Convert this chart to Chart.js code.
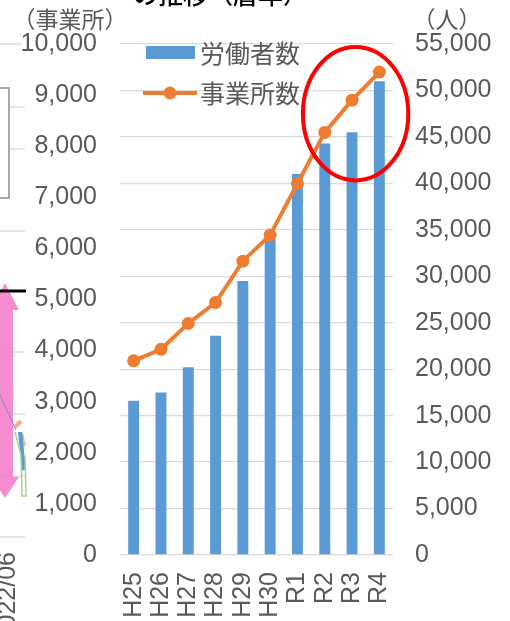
<!DOCTYPE html>
<html>
<head>
<meta charset="utf-8">
<script src="https://cdn.jsdelivr.net/npm/chart.js@4.4.0/dist/chart.umd.min.js"></script>
<style>
  body { margin: 0; background: #fff; }
  #wrap { width: 510px; height: 621px; }
</style>
</head>
<body>
<div id="wrap"><canvas id="chart" width="510" height="621"></canvas></div>
<script>
// values
const years = ['H25', 'H26', 'H27', 'H28', 'H29', 'H30', 'R1', 'R2', 'R3', 'R4'];
const workers = [16600, 17500, 20200, 23600, 29500, 34100, 41000, 44300, 45500, 51000];
const offices = [3800, 4025, 4530, 4940, 5750, 6260, 7270, 8270, 8900, 9450];
const leftTicks = [0, 1000, 2000, 3000, 4000, 5000, 6000, 7000, 8000, 9000, 10000];
const rightTicks = [0, 5000, 10000, 15000, 20000, 25000, 30000, 35000, 40000, 45000, 50000, 55000];

const NUM_FONT = '"Liberation Sans", Arial, sans-serif';
const JP_FONT = '"Noto Sans CJK JP", "Noto Sans", sans-serif';
const GREY = '#595959';

// legend drawn inside the plot, top left
const innerLegend = {
  id: 'innerLegend',
  afterDraw(chart) {
    const ctx = chart.ctx;
    const a = chart.chartArea;
    const ds = chart.data.datasets;
    const x0 = a.left + 23;
    ctx.save();
    ctx.font = '25px ' + JP_FONT;
    ctx.textBaseline = 'middle';
    // bars
    ctx.fillStyle = ds[0].backgroundColor;
    ctx.fillRect(x0 + 3, a.top + 2, 49, 13);
    ctx.fillStyle = GREY;
    ctx.fillText(ds[0].label, x0 + 57, a.top + 9);
    // line
    const ly = a.top + 49;
    ctx.strokeStyle = ds[1].borderColor;
    ctx.lineWidth = 4;
    ctx.beginPath();
    ctx.moveTo(x0, ly);
    ctx.lineTo(x0 + 54, ly);
    ctx.stroke();
    ctx.fillStyle = ds[1].borderColor;
    ctx.beginPath();
    ctx.arc(x0 + 27, ly, 6.5, 0, Math.PI * 2);
    ctx.fill();
    ctx.fillStyle = GREY;
    ctx.fillText(ds[1].label, x0 + 57, ly);
    ctx.restore();
  }
};

// axis unit captions, cut-off title and the red ring
const extras = {
  id: 'extras',
  afterDatasetsDraw(chart) {
    const ctx = chart.ctx;
    const x = chart.scales.x;
    const yr = chart.scales.y1;
    const cx = x.getPixelForValue(8.13);
    const cy = yr.getPixelForValue(47500);
    const rx = x.getPixelForValue(1.93) - x.getPixelForValue(0);
    const ry = yr.getPixelForValue(0) - yr.getPixelForValue(7180);
    ctx.save();
    ctx.strokeStyle = '#ff0000';
    ctx.lineWidth = 4;
    ctx.beginPath();
    ctx.ellipse(cx, cy, rx, ry, 0, 0, Math.PI * 2);
    ctx.stroke();
    ctx.restore();
  },
  afterDraw(chart) {
    const ctx = chart.ctx;
    ctx.save();
    ctx.fillStyle = GREY;
    ctx.font = '23px ' + JP_FONT;
    ctx.textBaseline = 'middle';
    ctx.textAlign = 'center';
    ctx.fillText('（事業所）', 70, 19);
    ctx.fillText('（人）', 447, 19);
    ctx.fillStyle = '#000';
    ctx.font = '500 25px ' + JP_FONT;
    ctx.textAlign = 'left';
    ctx.fillText('の推移（暦年）', 133, -6);

    // neighbouring chart that got cropped in on the left
    ctx.strokeStyle = '#d9d9d9';
    ctx.lineWidth = 1.3;
    [[44, 0, 22], [107, 10, 25], [149, 10, 25], [231, 0, 25], [352, 0, 25],
     [414, 0, 25], [476, 0, 25], [537, 0, 25]].forEach(([yy, a, b]) => {
      ctx.beginPath(); ctx.moveTo(a, yy); ctx.lineTo(b, yy); ctx.stroke();
    });
    ctx.strokeStyle = '#8c8c8c';
    ctx.lineWidth = 1.5;
    ctx.strokeRect(-5, 88, 14, 110);
    ctx.fillStyle = 'rgba(245,120,200,0.85)';
    ctx.beginPath();
    ctx.moveTo(5, 283); ctx.lineTo(19, 310); ctx.lineTo(13, 310); ctx.lineTo(13, 477);
    ctx.lineTo(19, 477); ctx.lineTo(5, 498); ctx.lineTo(-9, 477); ctx.lineTo(-3, 477);
    ctx.lineTo(-3, 310); ctx.lineTo(-9, 310); ctx.closePath();
    ctx.fill();
    ctx.strokeStyle = '#000';
    ctx.lineWidth = 3;
    ctx.beginPath(); ctx.moveTo(0, 291); ctx.lineTo(26, 291); ctx.stroke();
    ctx.lineWidth = 1;
    ctx.strokeStyle = '#9b7fb5';
    ctx.beginPath(); ctx.moveTo(0, 395); ctx.lineTo(16, 430); ctx.stroke();
    ctx.lineWidth = 4;
    ctx.strokeStyle = '#f4b183';
    ctx.beginPath(); ctx.moveTo(15, 427); ctx.lineTo(21, 421); ctx.stroke();
    ctx.beginPath(); ctx.moveTo(21, 433); ctx.lineTo(24, 446); ctx.stroke();
    ctx.strokeStyle = '#5b9bd5';
    ctx.beginPath(); ctx.moveTo(20, 432); ctx.lineTo(24, 470); ctx.stroke();
    ctx.lineWidth = 1.5;
    ctx.strokeStyle = '#a9d18e';
    ctx.beginPath(); ctx.moveTo(15, 432); ctx.lineTo(21, 455); ctx.lineTo(22, 496);
    ctx.lineTo(26, 496); ctx.lineTo(25, 455); ctx.stroke();
    ctx.fillStyle = GREY;
    ctx.font = '25px ' + NUM_FONT;
    ctx.translate(15, 552);
    ctx.rotate(-Math.PI / 2);
    ctx.textAlign = 'right';
    ctx.textBaseline = 'alphabetic';
    ctx.fillText('2022/06', 0, 0);
    ctx.restore();
  }
};

new Chart(document.getElementById('chart'), {
  data: {
    labels: years,
    datasets: [
      {
        type: 'bar',
        label: '労働者数',
        data: workers,
        yAxisID: 'y1',
        backgroundColor: '#5b9bd5',
        categoryPercentage: 1,
        barPercentage: 0.4,
        order: 2
      },
      {
        type: 'line',
        label: '事業所数',
        data: offices,
        yAxisID: 'y',
        borderColor: '#ed7d31',
        backgroundColor: '#ed7d31',
        borderWidth: 4,
        pointRadius: 6.5,
        pointBackgroundColor: '#ed7d31',
        pointBorderWidth: 0,
        tension: 0,
        order: 1
      }
    ]
  },
  options: {
    responsive: false,
    animation: false,
    layout: { padding: { top: 44, left: 0, right: 0, bottom: 0 } },
    plugins: { legend: { display: false }, tooltip: { enabled: false } },
    scales: {
      x: {
        grid: { display: false, drawTicks: false },
        border: { display: false },
        ticks: {
          color: GREY, font: { family: NUM_FONT, size: 25 },
          minRotation: 90, maxRotation: 90, autoSkip: false, padding: 17
        },
        afterFit: (s) => { s.height = 66; }
      },
      y: {
        position: 'left',
        min: 0, max: 10000,
        afterBuildTicks: (s) => { s.ticks = leftTicks.map(v => ({ value: v })); },
        grid: { display: false, drawTicks: false },
        border: { display: false },
        ticks: {
          color: GREY, font: { family: NUM_FONT, size: 25 }, padding: 23,
          callback: (v) => v.toLocaleString('en-US')
        },
        afterFit: (s) => { s.width = 120; }
      },
      y1: {
        position: 'right',
        min: 0, max: 55000,
        afterBuildTicks: (s) => { s.ticks = rightTicks.map(v => ({ value: v })); },
        grid: { color: '#d9d9d9', lineWidth: 1.3, drawTicks: false },
        border: { display: false },
        ticks: {
          color: GREY, font: { family: NUM_FONT, size: 25 }, padding: 22,
          callback: (v) => v.toLocaleString('en-US')
        },
        afterFit: (s) => { s.width = 117; }
      }
    }
  },
  plugins: [innerLegend, extras]
});
</script>
</body>
</html>
